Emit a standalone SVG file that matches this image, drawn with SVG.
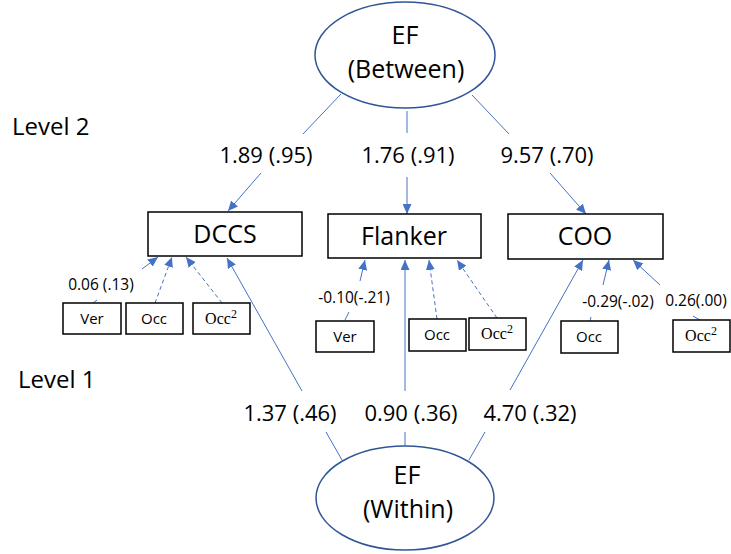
<svg xmlns="http://www.w3.org/2000/svg" width="731" height="554" viewBox="0 0 731 554">
<style>
.ell{fill:#fff;stroke:#2F5597;stroke-width:1.5}
.box{fill:#fff;stroke:#000;stroke-width:1.5}
.ln{stroke:#4472C4;stroke-width:1;fill:none}
.dash{stroke-dasharray:4,3}
.t{font-family:"Open Sans","Noto Sans",sans-serif;fill:#000;text-anchor:middle}
.big{font-size:25px}
.lbl{font-size:22px}
.sm{font-size:15.5px}
.bx{font-size:15px}
.occ{font-family:"Liberation Serif",serif;font-size:16px;fill:#000;text-anchor:middle}
.lev{font-family:"Open Sans","Noto Sans",sans-serif;font-size:24px;fill:#000}
</style>
<defs>
<marker id="ah" markerUnits="userSpaceOnUse" markerWidth="11" markerHeight="9" refX="10" refY="4.5" orient="auto">
<path d="M0,0 L10,4.5 L0,9 z" fill="#4472C4"/>
</marker>
</defs>
<rect width="731" height="554" fill="#fff"/>
<text class="lev" x="12" y="135">Level 2</text>
<text class="lev" x="18" y="388">Level 1</text>
<g id="connectors">
<line class="ln" x1="341" y1="94" x2="303" y2="134"/>
<line class="ln" x1="407" y1="111" x2="407" y2="133"/>
<line class="ln" x1="472" y1="95" x2="509" y2="134"/>
<line class="ln" x1="261" y1="173" x2="228" y2="211" marker-end="url(#ah)"/>
<line class="ln" x1="407" y1="177" x2="407" y2="214" marker-end="url(#ah)"/>
<line class="ln" x1="550" y1="173" x2="586" y2="214" marker-end="url(#ah)"/>
<line class="ln" x1="93" y1="303" x2="97" y2="300"/>
<line class="ln" x1="142" y1="269" x2="158" y2="257" marker-end="url(#ah)"/>
<line class="ln dash" x1="155" y1="303" x2="172" y2="257" marker-end="url(#ah)"/>
<line class="ln dash" x1="222" y1="303" x2="186" y2="257" marker-end="url(#ah)"/>
<line class="ln" x1="302" y1="391" x2="227" y2="258" marker-end="url(#ah)"/>
<line class="ln" x1="345" y1="320" x2="349" y2="312"/>
<line class="ln" x1="360" y1="281" x2="365" y2="260" marker-end="url(#ah)"/>
<line class="ln dash" x1="437" y1="319" x2="429" y2="260" marker-end="url(#ah)"/>
<line class="ln dash" x1="497" y1="318" x2="457" y2="260" marker-end="url(#ah)"/>
<line class="ln" x1="405" y1="391" x2="405" y2="260" marker-end="url(#ah)"/>
<line class="ln" x1="590" y1="321" x2="591" y2="317"/>
<line class="ln" x1="603" y1="285" x2="609" y2="260" marker-end="url(#ah)"/>
<line class="ln" x1="700" y1="320" x2="693" y2="316"/>
<line class="ln" x1="660" y1="285" x2="633" y2="260" marker-end="url(#ah)"/>
<line class="ln" x1="510" y1="390" x2="583" y2="260" marker-end="url(#ah)"/>
<line class="ln" x1="326" y1="432" x2="342" y2="460"/>
<line class="ln" x1="405" y1="432" x2="405" y2="446"/>
<line class="ln" x1="485" y1="432" x2="469" y2="460"/>
</g>
<g id="labels">
<text class="t lbl" x="266" y="163">1.89 (.95)</text>
<text class="t lbl" x="408" y="163">1.76 (.91)</text>
<text class="t lbl" x="547" y="163">9.57 (.70)</text>
<text class="t sm" x="101" y="290">0.06 (.13)</text>
<text class="t sm" x="354" y="303">-0.10(-.21)</text>
<text class="t sm" x="618" y="307">-0.29(-.02)</text>
<text class="t sm" x="696" y="306">0.26(.00)</text>
<text class="t lbl" x="290" y="421">1.37 (.46)</text>
<text class="t lbl" x="411" y="421">0.90 (.36)</text>
<text class="t lbl" x="530" y="421">4.70 (.32)</text>
</g>
<g id="ef-between">
<ellipse class="ell" cx="405" cy="55" rx="90" ry="53"/>
<text class="t big" x="405" y="44">EF</text>
<text class="t big" x="406" y="78">(Between)</text>
</g>
<g id="ef-within">
<ellipse class="ell" cx="405" cy="498" rx="89" ry="52"/>
<text class="t big" x="407" y="484">EF</text>
<text class="t big" x="408" y="518">(Within)</text>
</g>
<g id="dccs">
<rect class="box" x="148" y="212" width="154" height="44"/>
<text class="t big" x="225" y="243">DCCS</text>
</g>
<g id="flanker">
<rect class="box" x="328" y="214" width="153" height="44"/>
<text class="t big" x="404" y="245">Flanker</text>
</g>
<g id="coo">
<rect class="box" x="508" y="214" width="155" height="45"/>
<text class="t big" x="585" y="245">COO</text>
</g>
<g id="dccs-ver"><rect class="box" x="63" y="303" width="58" height="31"/><text class="t bx" x="92" y="324">Ver</text></g>
<g id="dccs-occ"><rect class="box" x="126" y="303" width="57" height="31"/><text class="t bx" x="154" y="324">Occ</text></g>
<g id="dccs-occ2"><rect class="box" x="193" y="303" width="57" height="31"/><text class="occ" x="221" y="324">Occ<tspan dy="-6" font-size="12">2</tspan></text></g>
<g id="flanker-ver"><rect class="box" x="316" y="321" width="58" height="31"/><text class="t bx" x="345" y="342">Ver</text></g>
<g id="flanker-occ"><rect class="box" x="409" y="319" width="57" height="32"/><text class="t bx" x="437" y="340">Occ</text></g>
<g id="flanker-occ2"><rect class="box" x="469" y="318" width="57" height="32"/><text class="occ" x="497" y="339">Occ<tspan dy="-6" font-size="12">2</tspan></text></g>
<g id="coo-occ"><rect class="box" x="561" y="321" width="57" height="32"/><text class="t bx" x="589" y="342">Occ</text></g>
<g id="coo-occ2"><rect class="box" x="673" y="320" width="57" height="32"/><text class="occ" x="701" y="341">Occ<tspan dy="-6" font-size="12">2</tspan></text></g>
</svg>
